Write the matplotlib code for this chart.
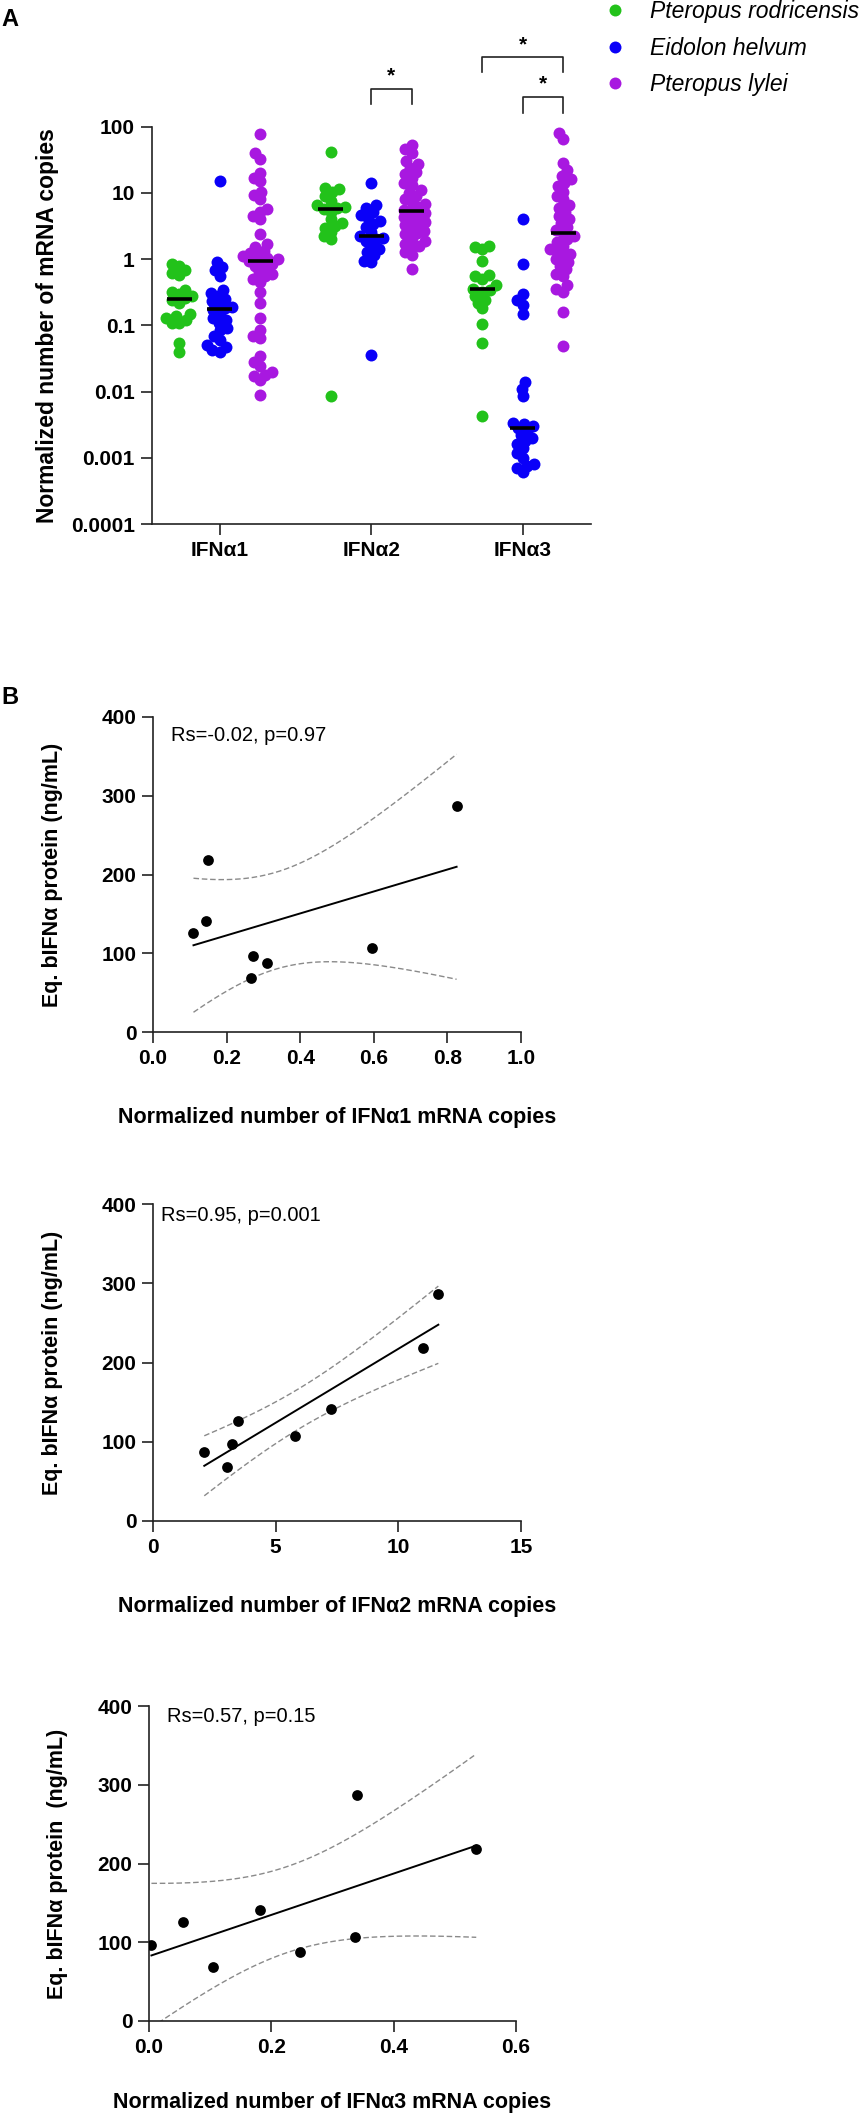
import matplotlib
matplotlib.use('Agg')
import matplotlib.pyplot as plt
from matplotlib.lines import Line2D
from matplotlib.ticker import NullLocator
import numpy as np

plt.rcParams['font.family'] = ['Liberation Sans', 'DejaVu Sans']

W, H = 864, 2114

# ---------------- panel A data ----------------
genes = ['IFNα1', 'IFNα2', 'IFNα3']
species = ['Pteropus rodricensis', 'Eidolon helvum', 'Pteropus lylei']
colors = ['#22c21a', '#0a00f8', '#a818e0']

rod_ifn1 = [0.85, 0.78, 0.68, 0.62, 0.58, 0.34, 0.32, 0.30, 0.28, 0.26, 0.24,
            0.22, 0.15, 0.14, 0.13, 0.12, 0.11, 0.11, 0.055, 0.04]
eid_ifn1 = [15, 0.9, 0.75, 0.68, 0.55, 0.34, 0.31, 0.28, 0.25, 0.23, 0.21, 0.19,
            0.18, 0.17, 0.15, 0.13, 0.12, 0.11, 0.09, 0.085, 0.07, 0.06, 0.05,
            0.047, 0.042, 0.04]
lyl_ifn1 = [78, 40, 33, 20, 17, 15, 10.5, 9.3, 8, 5.8, 5.2, 4.5, 4, 2.4, 1.7,
            1.55, 1.35, 1.25, 1.2, 1.1, 1.05, 1.0, 0.95, 0.95, 0.85, 0.8, 0.72,
            0.65, 0.6, 0.55, 0.5, 0.45, 0.32, 0.22, 0.13, 0.085, 0.07, 0.065,
            0.034, 0.028, 0.024, 0.02, 0.018, 0.017, 0.015, 0.009]
rod_ifn2 = [42, 12, 11.5, 10.5, 9, 7.5, 6.5, 6.2, 5.9, 5.7, 5.2, 4.0, 3.5, 3.2,
            3.0, 2.6, 2.2, 2.0, 0.0085]
eid_ifn2 = [14, 6.6, 6, 5.2, 4.6, 4.2, 3.8, 3.4, 3.1, 2.6, 2.2, 2.1, 2.0, 1.9,
            1.6, 1.4, 1.3, 1.15, 0.95, 0.9, 0.036]
lyl_ifn2 = [53, 46, 40, 30, 27, 24, 21, 19, 17, 14, 13, 11, 10, 9, 8, 7.3, 6.7,
            6.1, 5.6, 5.3, 5.0, 4.6, 4.3, 4.0, 3.7, 3.5, 3.3, 3.0, 2.7, 2.5, 2.4,
            2.1, 1.9, 1.7, 1.6, 1.5, 1.3, 1.15, 0.72]
rod_ifn3 = [1.6, 1.5, 1.4, 0.95, 0.58, 0.55, 0.5, 0.4, 0.36, 0.34, 0.32, 0.28,
            0.24, 0.22, 0.18, 0.105, 0.055, 0.0043]
eid_ifn3 = [4.0, 0.85, 0.3, 0.24, 0.2, 0.15, 0.014, 0.011, 0.0085, 0.0034,
            0.0032, 0.003, 0.0028, 0.0025, 0.0022, 0.002, 0.0018, 0.0016,
            0.0014, 0.0012, 0.001, 0.0008, 0.00075, 0.0007, 0.0006]
lyl_ifn3 = [80, 65, 28, 22, 18, 16, 14, 12.5, 10.5, 9, 8, 6.5, 6, 5.2, 4.5, 4,
            3.5, 3.1, 2.8, 2.5, 2.2, 2, 1.8, 1.6, 1.4, 1.3, 1.2, 1.1, 1.0, 0.9,
            0.8, 0.7, 0.6, 0.55, 0.4, 0.35, 0.32, 0.16, 0.048]

groups = [[rod_ifn1, eid_ifn1, lyl_ifn1],
          [rod_ifn2, eid_ifn2, lyl_ifn2],
          [rod_ifn3, eid_ifn3, lyl_ifn3]]

yticks_a = [0.0001, 0.001, 0.01, 0.1, 1, 10, 100]
ytick_labels_a = ['0.0001', '0.001', '0.01', '0.1', '1', '10', '100']

# significance: (gene index, species a, species b, bracket top, leg bottom)
sig_pairs = [(1, 1, 2, 10**2.57, 10**2.34),
             (2, 0, 2, 10**3.05, 10**2.83),
             (2, 1, 2, 10**2.45, 10**2.21)]

# ---------------- panel B data ----------------
protein = [126, 141, 218, 68, 97, 87, 107, 287]
ifn1_copies = [0.11, 0.145, 0.15, 0.265, 0.272, 0.31, 0.595, 0.825]
ifn2_copies = [3.46, 7.25, 11.0, 3.03, 3.21, 2.09, 5.8, 11.63]
ifn3_copies = [0.055, 0.182, 0.535, 0.104, 0.004, 0.247, 0.336, 0.340]
rs_notes = ['Rs=-0.02, p=0.97', 'Rs=0.95, p=0.001', 'Rs=0.57, p=0.15']


def axrect(l, t, r, b):
    return [l / W, 1 - b / H, (r - l) / W, (b - t) / H]


def style_axis(ax):
    for s in ['top', 'right']:
        ax.spines[s].set_visible(False)
    for s in ['left', 'bottom']:
        ax.spines[s].set_linewidth(1.2)
        ax.spines[s].set_color('#222222')
    ax.tick_params(direction='out', length=8, width=1.2, color='#222222',
                   labelsize=15, pad=4)
    for lab in ax.get_xticklabels() + ax.get_yticklabels():
        lab.set_fontweight('bold')


def swarm_offsets(yp, sep):
    # simple beeswarm: each point goes to the free spot nearest the centre
    order = np.argsort(yp)
    placed = []
    out = np.zeros(len(yp))
    for i in order:
        y = yp[i]
        near = [(px, py) for px, py in placed if abs(py - y) < sep]
        cands = [0.0]
        for px, py in near:
            dx = np.sqrt(sep ** 2 - (py - y) ** 2)
            cands += [px - dx, px + dx]
        cands.sort(key=lambda c: (abs(c), c))
        for c in cands:
            if all((c - px) ** 2 + (y - py) ** 2 >= sep ** 2 - 1e-6 for px, py in near):
                out[i] = c
                placed.append((c, y))
                break
    return out


fig = plt.figure(figsize=(W / 100, H / 100), dpi=100)

# ================= panel A =================
ax = fig.add_axes(axrect(151.5, 126.7, 591, 524))
ax.set_yscale('log')
ax.set_ylim(1e-4, 100)
ax.set_xlim(-0.45, 2.45)
offsets = (np.arange(3) - 1) * 0.8 / 3

px_per_x = ax.bbox.width / (2.45 + 0.45)
for gi, gvals in enumerate(groups):
    for si, vals in enumerate(gvals):
        vals = np.asarray(vals, dtype=float)
        pos = gi + offsets[si]
        yp = ax.transData.transform(np.column_stack([np.zeros(len(vals)), vals]))[:, 1]
        dx = swarm_offsets(yp, 7.5) / px_per_x
        ax.scatter(pos + dx, vals, s=8.6 ** 2, color=colors[si], linewidths=0,
                   zorder=3)
        ax.hlines(np.median(vals), pos - 0.083, pos + 0.083, color='black',
                  lw=2.6, zorder=4)

for gi, a, b, top, leg in sig_pairs:
    xa, xb = gi + offsets[a], gi + offsets[b]
    ax.plot([xa, xa, xb, xb], [leg, top, top, leg], color='#222222', lw=1.2,
            clip_on=False)
    ax.text((xa + xb) / 2, top * 1.55, '*', ha='center', va='center',
            fontsize=15, fontweight='bold', clip_on=False)

ax.set_xticks(range(len(genes)))
ax.set_xticklabels(genes)
ax.set_yticks(yticks_a)
ax.set_yticklabels(ytick_labels_a)
ax.yaxis.set_minor_locator(NullLocator())
style_axis(ax)
ax.set_ylabel('Normalized number of mRNA copies', fontsize=16.5,
              fontweight='bold')
ax.yaxis.set_label_coords(-0.2355, 0.5)
ax.yaxis.label.set_va('center')

handles = [Line2D([], [], marker='o', ls='', color=c, markersize=8.6,
                  markeredgewidth=0) for c in colors]
ax.legend(handles, species, loc='upper left', bbox_to_anchor=(603.5 / W, 1.0),
          bbox_transform=fig.transFigure, frameon=False, borderpad=0,
          borderaxespad=0, handlelength=1.0, handletextpad=1.02,
          labelspacing=0.6, prop={'size': 16.5, 'style': 'italic'})

fig.text(1 / W, 1 - 19 / H, 'A', fontsize=17, fontweight='bold', va='center')
fig.text(1 / W, 1 - 697 / H, 'B', fontsize=17, fontweight='bold', va='center')

# ================= panel B =================
T_CRIT = 2.447  # two-sided 95 %, df = 6


def corr_panel(rect, x, y, xlim, xticks, xticklabels, xlabel, ylabel, note,
               note_xy, ylab_x, xlab_y):
    ax = fig.add_axes(rect)
    x = np.asarray(x, dtype=float)
    y = np.asarray(y, dtype=float)
    n = len(x)
    slope, icpt = np.polyfit(x, y, 1)
    xs = np.linspace(x.min(), x.max(), 200)
    fit = icpt + slope * xs
    resid = y - (icpt + slope * x)
    s = np.sqrt(np.sum(resid ** 2) / (n - 2))
    se = s * np.sqrt(1 / n + (xs - x.mean()) ** 2 / np.sum((x - x.mean()) ** 2))
    ax.plot(xs, fit + T_CRIT * se, ls=(0, (4, 2)), color='#8a8a8a', lw=1.0)
    ax.plot(xs, fit - T_CRIT * se, ls=(0, (4, 2)), color='#8a8a8a', lw=1.0)
    ax.plot(xs, fit, color='black', lw=1.4)
    ax.scatter(x, y, s=60, color='black', linewidths=0, zorder=3)
    ax.set_xlim(xlim)
    ax.set_ylim(0, 400)
    ax.set_xticks(xticks)
    ax.set_xticklabels(xticklabels)
    ax.set_yticks([0, 100, 200, 300, 400])
    style_axis(ax)
    ax.text(note_xy[0], note_xy[1], note, transform=ax.transAxes, fontsize=14.5,
            va='center', ha='left')
    ax.set_xlabel(xlabel, fontsize=15.5, fontweight='bold')
    ax.xaxis.set_label_coords(0.5, xlab_y)
    ax.xaxis.label.set_va('center')
    ax.set_ylabel(ylabel, fontsize=15.5, fontweight='bold')
    ax.yaxis.set_label_coords(ylab_x, 0.5)
    ax.yaxis.label.set_va('center')
    return ax


corr_panel(axrect(153, 717, 521, 1032), ifn1_copies, protein, (0, 1),
           [0, 0.2, 0.4, 0.6, 0.8, 1.0], ['0.0', '0.2', '0.4', '0.6', '0.8', '1.0'],
           'Normalized number of IFNα1 mRNA copies', 'Eq. bIFNα protein (ng/mL)',
           rs_notes[0], (0.049, 0.94), -0.274, -0.27)
corr_panel(axrect(153, 1204, 521, 1521), ifn2_copies, protein, (0, 15),
           [0, 5, 10, 15], ['0', '5', '10', '15'],
           'Normalized number of IFNα2 mRNA copies', 'Eq. bIFNα protein (ng/mL)',
           rs_notes[1], (0.022, 0.965), -0.274, -0.271)
corr_panel(axrect(149, 1706, 516, 2021), ifn3_copies, protein, (0, 0.6),
           [0, 0.2, 0.4, 0.6], ['0.0', '0.2', '0.4', '0.6'],
           'Normalized number of IFNα3 mRNA copies', 'Eq. bIFNα protein  (ng/mL)',
           rs_notes[2], (0.049, 0.968), -0.248, -0.26)

fig.savefig('out.png', dpi=100)
